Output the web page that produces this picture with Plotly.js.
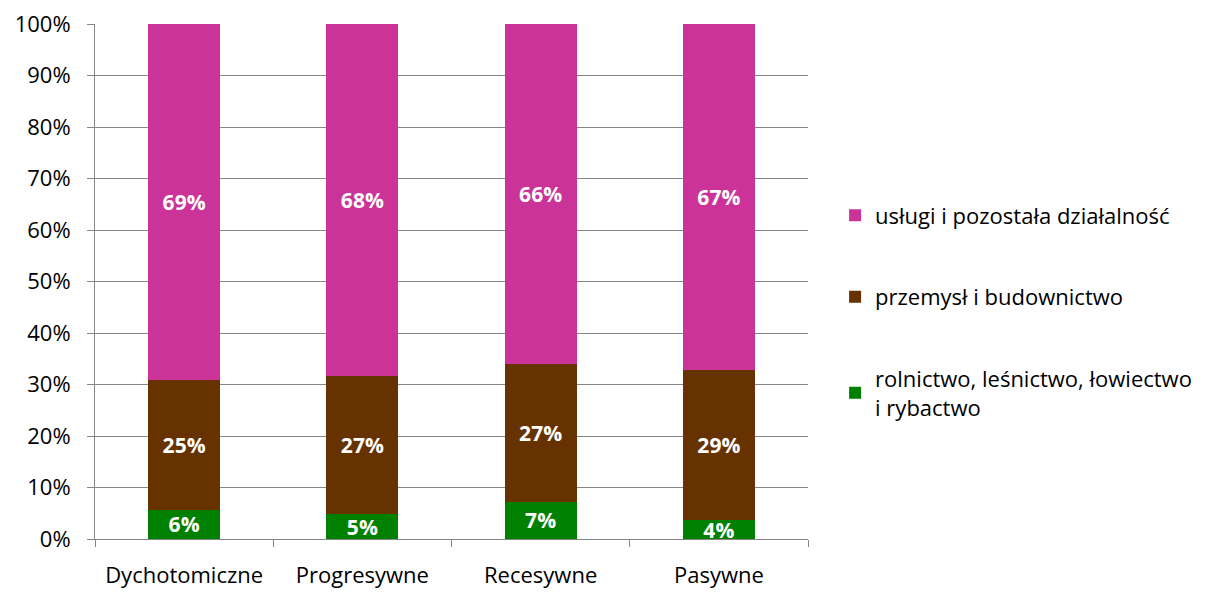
<!DOCTYPE html>
<html><head><meta charset="utf-8">
<script src="https://cdn.plot.ly/plotly-3.0.1.min.js"></script>
<style>body{margin:0;background:#fff}#c{width:1218px;height:593px}</style>
</head><body><div id="c"></div>
<script>
var categories = ['Dychotomiczne', 'Progresywne', 'Recesywne', 'Pasywne'];
var rolnictwo = [5.7, 4.8, 7.2, 3.6];
var przemysl = [25.1, 26.8, 26.8, 29.2];
var uslugi = [69.2, 68.4, 66.0, 67.2];
var seriesNames = ['rolnictwo, leśnictwo, łowiectwo<br>i rybactwo', 'przemysł i budownictwo', 'usługi i pozostała działalność'];
var colors = ['#008000', '#663300', '#CC3399'];
var yTicks = [0,10,20,30,40,50,60,70,80,90,100];
var yTickText = yTicks.map(function(v){return v+'%';});

var FONT = 'Open Sans, Noto Sans, sans-serif';
var data = [rolnictwo, przemysl, uslugi].map(function(vals, i){
  return {
    type: 'bar', x: categories, y: vals, name: seriesNames[i],
    marker: {color: colors[i], line: {width: 0}},
    width: 0.404,
    legendgroup: 'g'+i,
    legendrank: 3 - i,
    texttemplate: '%{y:.0f}%', textposition: 'inside', insidetextanchor: 'middle',
    constraintext: 'none',
    textfont: {family: FONT, size: 21, color: '#ffffff', weight: 'bold'},
    hoverinfo: 'skip'
  };
});

var layout = {
  width: 1218, height: 593,
  margin: {l: 95, r: 410, t: 24, b: 54},
  barmode: 'stack',
  paper_bgcolor: '#fff', plot_bgcolor: '#fff',
  font: {family: FONT, size: 22, color: '#000'},
  xaxis: {
    showgrid: false, showline: true, linecolor: '#868686', linewidth: 1,
    ticks: 'outside', tickson: 'boundaries', ticklen: 7, tickcolor: '#868686',
    ticklabelstandoff: 17, tickfont: {family: FONT, size: 22, color: '#000'}
  },
  yaxis: {
    range: [0, 100], tickvals: yTicks, ticktext: yTickText,
    showgrid: true, gridcolor: '#868686', gridwidth: 1,
    showline: true, linecolor: '#868686', linewidth: 1,
    ticks: 'outside', ticklen: 7, tickcolor: '#868686',
    ticklabelstandoff: 12, zeroline: false,
    tickfont: {family: FONT, size: 22, color: '#000'}
  },
  legend: {
    x: 1.038, xanchor: 'left', y: 0.669, yanchor: 'top',
    font: {family: FONT, size: 22, color: '#000'},
    tracegroupgap: 50, itemwidth: 30, traceorder: 'grouped'
  },
  showlegend: true
};
Plotly.newPlot('c', data, layout, {staticPlot: true});
</script></body></html>
